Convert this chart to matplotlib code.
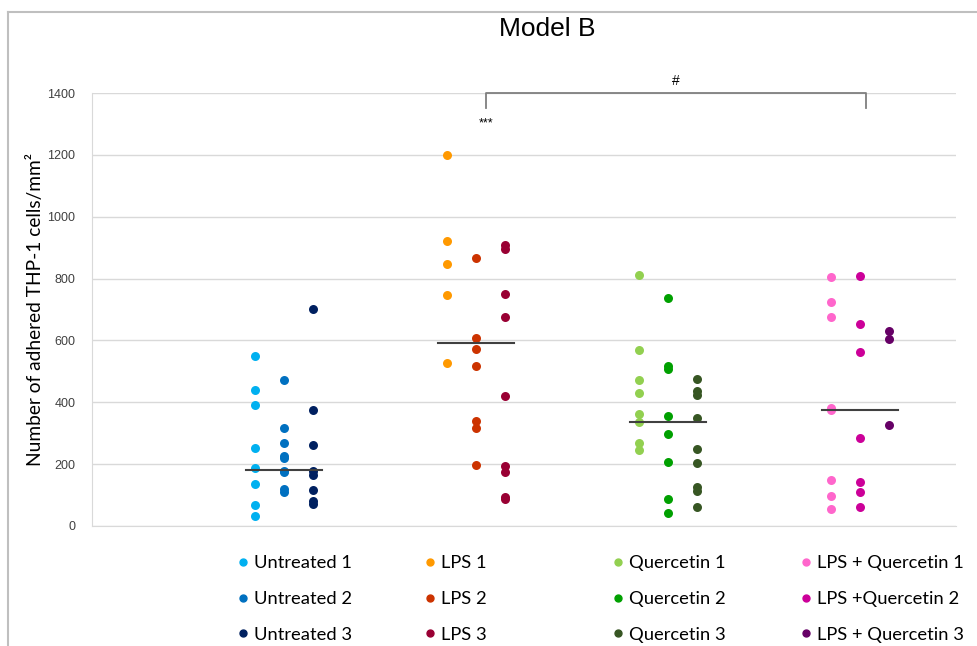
import numpy as np
import matplotlib.pyplot as plt
from matplotlib.lines import Line2D

# valores (células THP-1 adheridas / mm²)
untreated_1 = [551, 440, 390, 253, 188, 136, 67, 33]
untreated_2 = [473, 317, 267, 227, 220, 178, 173, 119, 110]
untreated_3 = [703, 374, 261, 178, 164, 116, 81, 72]
lps_1 = [1201, 922, 847, 746, 526]
lps_2 = [865, 608, 573, 517, 339, 317, 198]
lps_3 = [910, 895, 751, 677, 419, 194, 174, 93, 86]
quercetin_1 = [812, 568, 473, 430, 362, 335, 267, 247]
quercetin_2 = [737, 518, 508, 356, 298, 206, 87, 43]
quercetin_3 = [476, 436, 425, 348, 250, 203, 126, 113, 62]
lps_q_1 = [804, 725, 677, 382, 376, 148, 97, 55]
lps_q_2 = [808, 653, 564, 285, 143, 111, 62]
lps_q_3 = [631, 605, 326]

medians = [180, 593, 337, 376]

series = [
    ('Untreated 1', untreated_1, '#00B0F0'),
    ('Untreated 2', untreated_2, '#0070C0'),
    ('Untreated 3', untreated_3, '#002060'),
    ('LPS 1', lps_1, '#FF9900'),
    ('LPS 2', lps_2, '#CC3300'),
    ('LPS 3', lps_3, '#990033'),
    ('Quercetin 1', quercetin_1, '#92D050'),
    ('Quercetin 2', quercetin_2, '#00A000'),
    ('Quercetin 3', quercetin_3, '#375623'),
    ('LPS + Quercetin 1', lps_q_1, '#FF66CC'),
    ('LPS +Quercetin 2', lps_q_2, '#CC0099'),
    ('LPS + Quercetin 3', lps_q_3, '#660066'),
]

plt.rcParams['font.family'] = ['Liberation Sans', 'DejaVu Sans']

fig = plt.figure(figsize=(9.78, 6.46), dpi=100)
ax = fig.add_axes([0.0941, 0.1858, 0.8834, 0.6702])

offsets = [-0.15, 0.0, 0.15]
handles = []
for i, (label, vals, color) in enumerate(series):
    group = i // 3 + 1
    x = np.full(len(vals), group + offsets[i % 3])
    ax.scatter(x, vals, s=42, color=color, zorder=3, linewidths=0)
    handles.append(Line2D([], [], marker='o', linestyle='', color=color,
                          markersize=5, label=label))

# medianas
for g, m in enumerate(medians, start=1):
    ax.plot([g - 0.2, g + 0.2], [m, m], color='#404040', lw=1.5, zorder=4)

ax.set_xlim(0, 4.5)
ax.set_ylim(0, 1400)
ax.set_yticks(range(0, 1401, 200))
ax.set_xticks([])
ax.grid(True, axis='y', color='#D9D9D9', lw=1)
ax.set_axisbelow(True)
for side in ['top', 'right']:
    ax.spines[side].set_visible(False)
for side in ['left', 'bottom']:
    ax.spines[side].set_color('#D9D9D9')
ax.tick_params(axis='y', length=0, labelsize=9, labelcolor='#404040', pad=12)
ax.set_ylabel('Number of adhered THP-1 cells/mm²', fontsize=13.8,
              family=['Lato', 'DejaVu Sans'])
ax.yaxis.set_label_coords(-0.056, 0.5)

# significancia
ax.plot([2.05, 2.05, 4.03, 4.03], [1352, 1400, 1400, 1352], color='#7F7F7F',
        lw=1.3, clip_on=False, zorder=5)
ax.text(3.04, 1440, '#', ha='center', va='center', fontsize=10)
ax.text(2.05, 1303, '***', ha='center', va='center', fontsize=9)

fig.text(0.56, 0.955, 'Model B', ha='center', va='center', fontsize=19)

# leyenda en 4 columnas de igual ancho
col_x = [0.232, 0.423, 0.615, 0.807]
for c in range(4):
    fig.legend(handles=handles[c * 3:c * 3 + 3], loc='upper left',
               bbox_to_anchor=(col_x[c], 0.152), frameon=False,
               handletextpad=0.1, handlelength=1.0, labelspacing=1.08,
               borderaxespad=0, prop={'family': ['Lato', 'DejaVu Sans'], 'size': 13.2})

# marco exterior
fig.add_artist(Line2D([8 / 978, 8 / 978], [0, 1 - 12 / 646], color='#BFBFBF', lw=1.5))
fig.add_artist(Line2D([8 / 978, 1], [1 - 12 / 646, 1 - 12 / 646], color='#BFBFBF', lw=1.5))

fig.savefig('out.png', dpi=100)
